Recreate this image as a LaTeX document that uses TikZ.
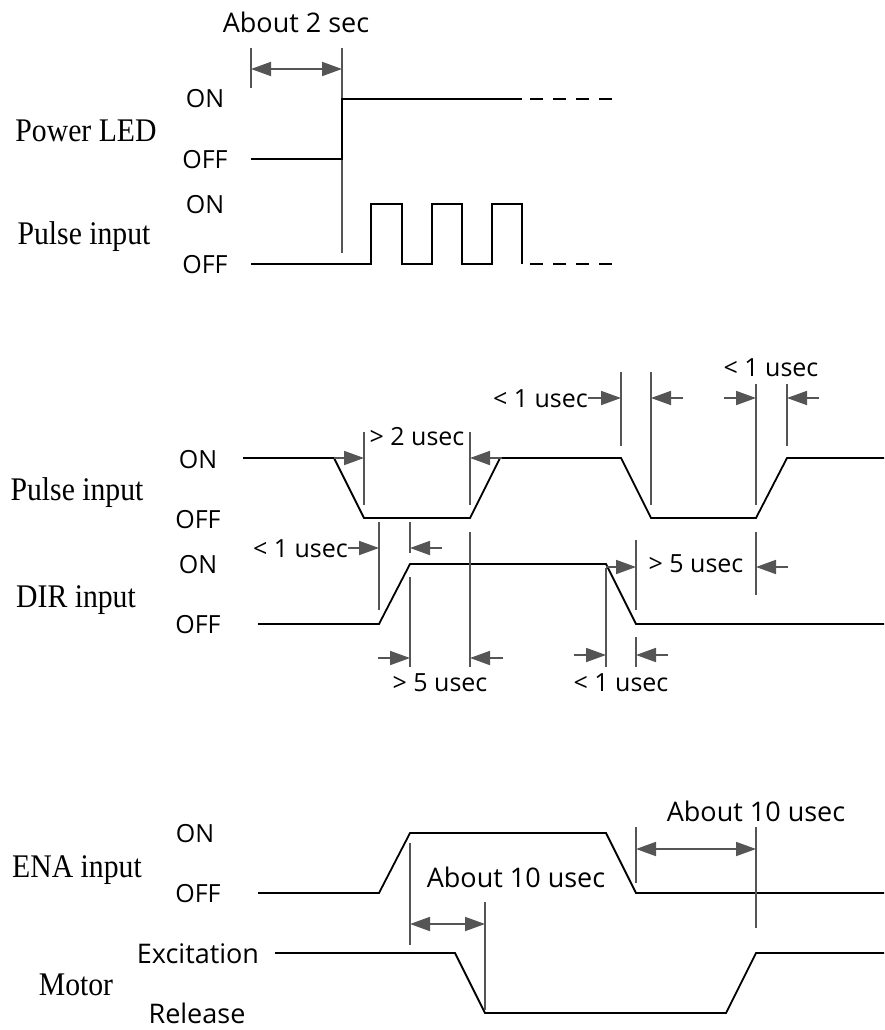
\documentclass[tikz,border=0pt]{standalone}
\usepackage{fontspec}
\setmainfont{Liberation Serif}
\newfontfamily\namefont[FakeStretch=0.9]{Liberation Serif}
\newfontfamily\lblfont{Open Sans}
\usetikzlibrary{arrows.meta}
\definecolor{guidegray}{HTML}{555555}
\begin{document}
\begin{tikzpicture}[x=1pt,y=-1pt,
  wave/.style={line width=1.8pt, line join=miter},
  dashwave/.style={line width=1.8pt, dash pattern=on 13pt off 10pt},
  guide/.style={draw=guidegray, line width=1.3pt},
  dimarrow/.style={draw=guidegray, line width=1.8pt, -{Triangle[length=20pt,width=14pt]}},
  dbl/.style={draw=guidegray, line width=1.8pt, {Triangle[length=20pt,width=14pt]}-{Triangle[length=20pt,width=14pt]}},
  sans/.style={font=\lblfont\fontsize{25}{30}\selectfont, inner sep=0pt, anchor=base},
  big/.style={font=\lblfont\fontsize{27}{32}\selectfont, inner sep=0pt, anchor=base},
  serif/.style={font=\namefont\fontsize{33}{38}\selectfont, inner sep=0pt, anchor=base}]
\useasboundingbox (0,0) rectangle (884,1030);

% ---------------- Top section ----------------
\node[big] (t2s) at (296,33) {About 2 sec};
\draw[guide] (251,48) -- (251,88);
\draw[guide] (342,48) -- (342,253);
\draw[dbl] (251,69) -- (342,69);

\node[sans] (pon) at (205,108) {ON};
\node[sans] (poff) at (205,168) {OFF};
\node[serif] (pled) at (86,142) {Power LED};
\draw[wave] (251,159) -- (342,159) -- (342,99) -- (522,99);
\draw[dashwave] (530,99) -- (613,99);

\node[sans] (qon) at (205,213) {ON};
\node[sans] (qoff) at (205,273) {OFF};
\node[serif] (pin1) at (84,244) {Pulse input};
\draw[wave] (251,264) -- (371,264) -- (371,204) -- (402,204) -- (402,264) -- (432,264)
  -- (432,204) -- (462,204) -- (462,264) -- (492,264) -- (492,204) -- (522,204) -- (522,264);
\draw[dashwave] (530,264) -- (613,264);

% ---------------- Middle section ----------------
\node[sans] (mon) at (198,468) {ON};
\node[sans] (moff) at (198,528) {OFF};
\node[serif] (pin2) at (77,500) {Pulse input};
\node[sans] (don) at (198,573) {ON};
\node[sans] (doff) at (198,633) {OFF};
\node[serif] (dir) at (76,607) {DIR input};

\draw[wave] (243,458) -- (334,458) -- (364,518) -- (470,518) -- (500,458) -- (621,458)
  -- (651,518) -- (756,518) -- (787,458) -- (884,458);
\draw[wave] (258,624) -- (379,624) -- (410,564) -- (606,564) -- (636,624) -- (884,624);

\draw[guide] (364,432) -- (364,505);
\draw[guide] (470,432) -- (470,505);
\draw[guide] (470,532) -- (470,667);
\draw[guide] (621,372) -- (621,446);
\draw[guide] (651,372) -- (651,505);
\draw[guide] (756,384) -- (756,505);
\draw[guide] (787,384) -- (787,446);
\draw[guide] (379,522) -- (379,610);
\draw[guide] (410,522) -- (410,553);
\draw[guide] (410,577) -- (410,667);
\draw[guide] (606,568) -- (606,667);
\draw[guide] (636,540) -- (636,610);
\draw[guide] (636,637) -- (636,667);
\draw[guide] (756,532) -- (756,595);

\node[sans] (g2) at (417,445) {> 2 usec};
\draw[dimarrow] (334,458) -- (364,458);
\draw[dimarrow] (502,458) -- (470,458);

\node[sans, anchor=base east] (l1a) at (588,407) {< 1 usec};
\draw[dimarrow] (588,398) -- (621,398);
\draw[dimarrow] (683,398) -- (651,398);

\node[sans] (l1b) at (771,376) {< 1 usec};
\draw[dimarrow] (724,398) -- (756,398);
\draw[dimarrow] (819,398) -- (787,398);

\node[sans, anchor=base east] (l1c) at (348,557) {< 1 usec};
\draw[dimarrow] (348,548) -- (379,548);
\draw[dimarrow] (442,548) -- (410,548);

\node[sans] (g5a) at (440,691) {> 5 usec};
\draw[dimarrow] (378,658) -- (410,658);
\draw[dimarrow] (503,658) -- (470,658);

\node[sans] (g5b) at (696,572) {> 5 usec};
\draw[dimarrow] (606,567) -- (636,567);
\draw[dimarrow] (788,567) -- (756,567);

\node[sans] (l1d) at (621,691) {< 1 usec};
\draw[dimarrow] (574,655) -- (606,655);
\draw[dimarrow] (668,655) -- (636,655);

% ---------------- Bottom section ----------------
\node[sans] (eon) at (195,842) {ON};
\node[sans] (eoff) at (198,902) {OFF};
\node[serif] (ena) at (77,877) {ENA input};
\node[big] (exc) at (198,963) {Excitation};
\node[serif] (mot) at (76,995) {Motor};
\node[big] (rel) at (197,1023) {Release};

\draw[wave] (275,953) -- (455,953) -- (485,1013) -- (726,1013) -- (756,953) -- (884,953);
\draw[wave] (258,893) -- (379,893) -- (410,833) -- (606,833) -- (636,893) -- (884,893);

\draw[guide] (410,843) -- (410,945);
\draw[guide] (485,902) -- (485,1010);
\draw[guide] (636,827) -- (636,883);
\draw[guide] (756,827) -- (756,928);
\draw[dbl] (410,924) -- (485,924);
\draw[dbl] (636,849) -- (756,849);

\node[big] (a10a) at (756,821) {About 10 usec};
\node[big] (a10b) at (516,887) {About 10 usec};
\end{tikzpicture}
\end{document}
